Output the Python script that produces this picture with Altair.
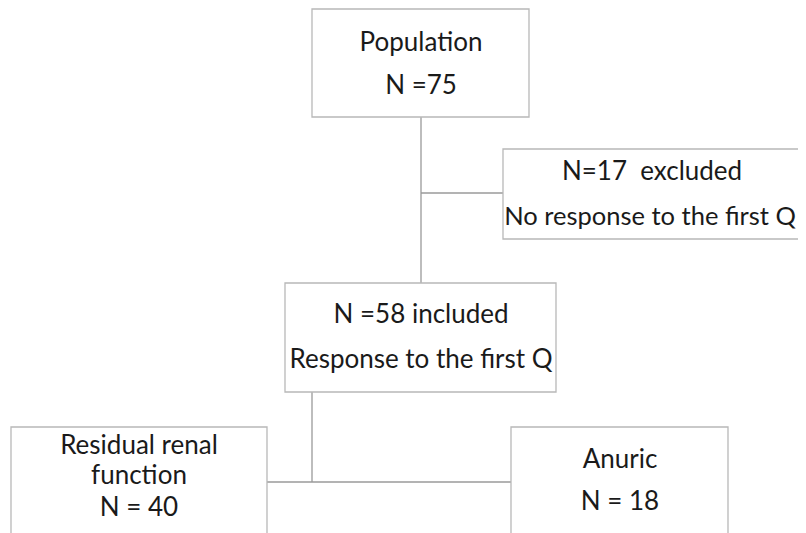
import altair as alt
import pandas as pd

# Boxes of the flowchart (pixel layout coordinates)
box_names = ["Population", "Excluded", "Included", "Residual", "Anuric"]
box_x1 = [312, 503, 285, 11, 511]
box_x2 = [529, 812, 556, 267, 728]
box_y1 = [9, 149, 283, 427, 427]
box_y2 = [117, 239, 392, 560, 560]

# Text lines
text_labels = ["Population", "N =75",
               "N=17\u00a0 excluded", "No response to the first Q",
               "N =58 included", "Response to the first Q",
               "Residual renal", "function", "N = 40",
               "Anuric", "N = 18"]
text_x = [421, 421, 652, 650, 421, 421, 139, 139, 139, 620, 620]
text_y = [43, 86, 172, 217, 315, 360, 446, 476, 508, 460, 502]
text_size = [26, 26, 26, 25.5, 26, 26, 26, 26, 26, 26, 26]

# Connector lines
line_x1 = [421, 421, 312, 267]
line_x2 = [421, 503, 312, 511]
line_y1 = [117, 193, 392, 482]
line_y2 = [283, 193, 482, 482]

boxes = pd.DataFrame({"name": box_names, "x1": box_x1, "x2": box_x2, "y1": box_y1, "y2": box_y2})
texts = pd.DataFrame({"label": text_labels, "x": text_x, "y": text_y, "size": text_size})
lines = pd.DataFrame({"x1": line_x1, "x2": line_x2, "y1": line_y1, "y2": line_y2})

xs = alt.Scale(domain=[8, 798])
ys = alt.Scale(domain=[8, 533], reverse=True)

rule = alt.Chart(lines).mark_rule(color="#9a9a9a", strokeWidth=1.3).encode(
    x=alt.X("x1:Q", scale=xs, axis=None),
    x2="x2:Q",
    y=alt.Y("y1:Q", scale=ys, axis=None),
    y2="y2:Q",
)

rect = alt.Chart(boxes).mark_rect(fill="white", stroke="#b8b8b8", strokeWidth=1.3).encode(
    x=alt.X("x1:Q", scale=xs, axis=None),
    x2="x2:Q",
    y=alt.Y("y1:Q", scale=ys, axis=None),
    y2="y2:Q",
)

text = alt.Chart(texts).mark_text(font="Lato", color="#1a1a1a",
                                  align="center", baseline="middle").encode(
    x=alt.X("x:Q", scale=xs, axis=None),
    y=alt.Y("y:Q", scale=ys, axis=None),
    text="label:N",
    size=alt.Size("size:Q", scale=None, legend=None),
)

chart = alt.layer(rule, rect, text).properties(
    width=790, height=525, padding=0, autosize=alt.AutoSizeParams(type="none")
).configure_view(stroke=None)

chart.save("out.html", embed_options={"renderer": "svg", "actions": False})
